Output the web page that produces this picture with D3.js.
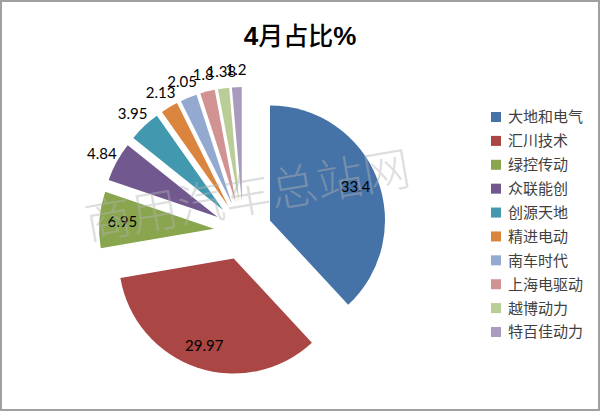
<!DOCTYPE html>
<html>
<head>
<meta charset="utf-8">
<script src="https://cdn.jsdelivr.net/npm/d3@7/dist/d3.min.js"></script>
<style>
  html, body { margin: 0; padding: 0; background: #fff; }
  svg { display: block; }
</style>
</head>
<body>
<svg id="chart" width="600" height="411"></svg>
<script>
const categories = ["大地和电气", "汇川技术", "绿控传动", "众联能创", "创源天地", "精进电动", "南车时代", "上海电驱动", "越博动力", "特百佳动力"];
const values = [33.4, 29.97, 6.95, 4.84, 3.95, 2.13, 2.05, 1.8, 1.38, 1.2];
const labels = ["33.4", "29.97", "6.95", "4.84", "3.95", "2.13", "2.05", "1.8", "1.38", "1.2"];
const colors = ["#4572A7", "#AA4643", "#89A54E", "#71588F", "#4198AF", "#DB843D", "#93A9CF", "#D19392", "#B9CD96", "#A99BBD"];
const title = "4月占比%";
const watermark = "商用汽车总站网";

const W = 600, H = 411;
const svg = d3.select("#chart");

svg.append("rect").attr("x", 0).attr("y", 0).attr("width", W).attr("height", H).attr("fill", "#fff");

// Title
const t = svg.append("text")
  .attr("x", 300).attr("y", 45)
  .attr("text-anchor", "middle")
  .attr("fill", "#000");
t.append("tspan").text(title.slice(0, 1))
  .attr("font-family", "Liberation Sans, Arial, sans-serif").attr("font-weight", "bold").attr("font-size", 26);
t.append("tspan").text(title.slice(1, 4))
  .attr("font-family", "Noto Sans CJK SC, sans-serif").attr("font-weight", "500").attr("font-size", 25);
t.append("tspan").text(title.slice(4))
  .attr("font-family", "Liberation Sans, Arial, sans-serif").attr("font-weight", "bold").attr("font-size", 26);

// Pie
const cx = 243, cy = 231, R = 115, explode = 29;
const pie = d3.pie().sort(null).value(d => d)(values);
const arc = d3.arc().innerRadius(0).outerRadius(R);
const g = svg.append("g").attr("transform", `translate(${cx},${cy})`);

const offset = d => {
  const a = (d.startAngle + d.endAngle) / 2;
  return [Math.sin(a) * explode, -Math.cos(a) * explode];
};

g.selectAll("path.slice")
  .data(pie)
  .join("path")
  .attr("class", "slice")
  .attr("d", arc)
  .attr("fill", (d, i) => colors[i])
  .attr("transform", d => { const o = offset(d); return `translate(${o[0]},${o[1]})`; });

// Watermark
svg.append("text")
  .attr("transform", "translate(88,240) rotate(-9.8)")
  .attr("font-family", "Noto Sans CJK SC, sans-serif")
  .attr("font-weight", "200")
  .attr("font-size", 47)
  .attr("fill", "#b4b4b4")
  .attr("fill-opacity", 0.45)
  .text(watermark);

// Labels
const inArc = d3.arc().innerRadius(R * 0.8).outerRadius(R * 0.8);
const outArc = d3.arc().innerRadius(R + 17).outerRadius(R + 17);
g.selectAll("text.lbl")
  .data(pie)
  .join("text")
  .attr("class", "lbl")
  .attr("transform", (d, i) => {
    const o = offset(d);
    const big = (d.endAngle - d.startAngle) > 0.4;
    const c = big ? inArc.centroid(d) : outArc.centroid(d);
    return `translate(${c[0] + o[0]},${c[1] + o[1]})`;
  })
  .attr("text-anchor", "middle")
  .attr("dy", "0.35em")
  .attr("font-family", "Lato, Carlito, sans-serif")
  .attr("font-size", 15)
  .attr("fill", "#000")
  .text((d, i) => labels[i]);

// Legend
const legend = svg.append("g");
const ly = d3.scaleLinear().domain([0, categories.length - 1]).range([117, 332]);
categories.forEach((c, i) => {
  legend.append("rect")
    .attr("x", 491).attr("y", ly(i) - 5).attr("width", 10).attr("height", 10)
    .attr("fill", colors[i]);
  legend.append("text")
    .attr("x", 508).attr("y", ly(i)).attr("dy", "0.36em")
    .attr("font-family", "Noto Sans CJK SC, sans-serif")
    .attr("font-size", 15)
    .attr("fill", "#404040")
    .text(c);
});

// Border
svg.append("rect").attr("x", 1).attr("y", 1).attr("width", W - 2).attr("height", H - 2)
  .attr("fill", "none").attr("stroke", "#a0a0a0").attr("stroke-width", 2);
</script>
</body>
</html>
